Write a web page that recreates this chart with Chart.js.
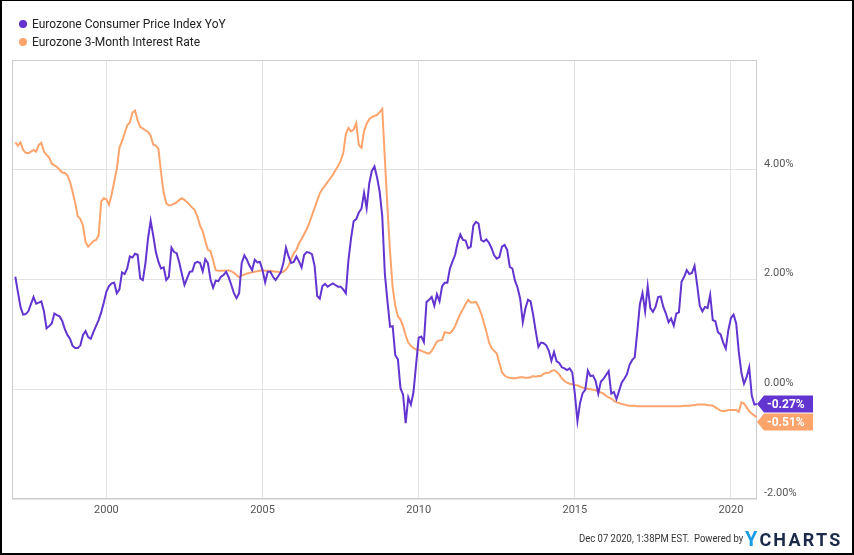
<!DOCTYPE html>
<html>
<head>
<meta charset="utf-8">
<script src="https://cdn.jsdelivr.net/npm/chart.js@4.4.0/dist/chart.umd.min.js"></script>
<style>
  html, body { margin: 0; padding: 0; background: #fff; }
  #wrap { position: relative; width: 854px; height: 555px; overflow: hidden; font-family: Roboto, sans-serif; }
  #frame { position: absolute; left: 0; top: 0; width: 854px; height: 555px; box-sizing: border-box;
           border: 2px solid #000; border-top-width: 1px; pointer-events: none; }
  #legend { position: absolute; left: 19px; top: 15px; font-size: 12px; color: #222; }
  .item { height: 18px; display: flex; align-items: center; white-space: nowrap; }
  .dot { width: 8px; height: 8px; border-radius: 50%; margin-right: 5px; }
  #stamp { position: absolute; left: 579px; top: 532px; font-size: 11px; line-height: 14px; color: #333;
           white-space: nowrap; transform-origin: 0 50%; }
  #logo { position: absolute; left: 745px; top: 528px; font-weight: bold; white-space: nowrap; line-height: 22px; }
  #logo .y { color: #1a9be6; font-size: 20px; margin-right: 2px; }
  #logo .c { color: #1c2a4a; font-size: 18px; letter-spacing: 2.2px; }
</style>
</head>
<body>
<div id="wrap">
  <canvas id="chart" width="854" height="555"></canvas>
  <div id="legend"></div>
  <div id="stamp">Dec 07 2020, 1:38PM EST.&nbsp;&nbsp;Powered by</div>
  <div id="logo"><span class="y">Y</span><span class="c">CHARTS</span></div>
  <div id="frame"></div>
</div>
<script>
// monthly observations, Jan 1997 .. Oct 2020, dated at month end
const START_YEAR = 1997;

const cpiYoY = [
  2.05, 1.77, 1.50, 1.36, 1.37, 1.42, 1.55, 1.68, 1.56, 1.58, 1.60, 1.42,
  1.11, 1.15, 1.20, 1.38, 1.35, 1.33, 1.25, 1.10, 0.99, 0.92, 0.79, 0.75,
  0.75, 0.80, 0.99, 1.06, 0.95, 0.92, 1.04, 1.15, 1.26, 1.40, 1.58, 1.78,
  1.88, 1.93, 1.94, 1.75, 1.82, 2.13, 2.10, 2.20, 2.42, 2.40, 2.47, 2.45,
  2.02, 1.99, 2.30, 2.75, 3.07, 2.80, 2.50, 2.32, 2.20, 2.22, 1.99, 2.05,
  2.58, 2.50, 2.48, 2.31, 2.10, 1.90, 2.02, 2.14, 2.15, 2.30, 2.32, 2.30,
  2.15, 2.37, 2.30, 2.00, 1.85, 1.98, 1.97, 2.05, 2.08, 2.14, 2.04, 1.90,
  1.75, 1.66, 1.75, 2.30, 2.44, 2.36, 2.25, 2.17, 2.36, 2.31, 2.32, 2.17,
  1.95, 2.14, 2.14, 2.05, 1.99, 2.06, 2.13, 2.30, 2.58, 2.42, 2.30, 2.32,
  2.42, 2.33, 2.22, 2.45, 2.50, 2.49, 2.46, 2.25, 1.70, 1.65, 1.88, 1.92,
  1.87, 1.90, 1.93, 1.90, 1.87, 1.87, 1.82, 1.75, 2.35, 2.75, 3.06, 3.10,
  3.22, 3.29, 3.58, 3.30, 3.75, 3.98, 4.06, 3.86, 3.60, 3.15, 2.10, 1.60,
  1.14, 1.15, 0.62, 0.55, 0.02, -0.10, -0.62, -0.15, -0.28, -0.05, 0.45, 0.94,
  0.96, 0.86, 1.59, 1.63, 1.68, 1.52, 1.73, 1.60, 1.88, 1.94, 1.94, 2.20,
  2.33, 2.45, 2.68, 2.82, 2.72, 2.71, 2.57, 2.60, 2.98, 3.05, 3.02, 2.72,
  2.69, 2.73, 2.67, 2.57, 2.44, 2.38, 2.41, 2.60, 2.63, 2.54, 2.23, 2.20,
  1.98, 1.85, 1.65, 1.22, 1.47, 1.63, 1.60, 1.35, 1.05, 0.77, 0.85, 0.84,
  0.80, 0.70, 0.52, 0.68, 0.51, 0.48, 0.40, 0.38, 0.35, 0.38, 0.31, -0.08,
  -0.58, -0.25, -0.07, -0.01, 0.34, 0.24, 0.25, 0.15, -0.08, 0.14, 0.19, 0.26,
  0.33, -0.08, -0.05, -0.18, -0.03, 0.12, 0.19, 0.27, 0.44, 0.53, 0.58, 1.05,
  1.55, 1.75, 1.42, 1.88, 1.48, 1.41, 1.50, 1.68, 1.69, 1.50, 1.38, 1.22,
  1.29, 1.16, 1.38, 1.40, 1.96, 2.05, 2.17, 2.10, 2.12, 2.25, 1.90, 1.52,
  1.42, 1.50, 1.48, 1.72, 1.26, 1.24, 1.04, 1.00, 0.85, 0.74, 1.08, 1.30,
  1.36, 1.20, 0.68, 0.30, 0.10, 0.22, 0.40, -0.12, -0.28, -0.27,
];

const rate3m = [
  4.50, 4.44, 4.50, 4.36, 4.31, 4.30, 4.33, 4.36, 4.33, 4.45, 4.49, 4.33,
  4.27, 4.22, 4.11, 4.08, 4.05, 4.00, 3.95, 3.94, 3.90, 3.78, 3.60, 3.40,
  3.15, 3.10, 2.98, 2.68, 2.60, 2.65, 2.70, 2.72, 2.80, 3.42, 3.48, 3.46,
  3.36, 3.55, 3.78, 4.02, 4.40, 4.52, 4.66, 4.81, 4.86, 5.04, 5.08, 4.90,
  4.78, 4.75, 4.72, 4.69, 4.62, 4.46, 4.44, 4.38, 3.95, 3.58, 3.39, 3.35,
  3.36, 3.38, 3.41, 3.45, 3.48, 3.45, 3.41, 3.36, 3.31, 3.26, 3.14, 2.98,
  2.88, 2.70, 2.54, 2.52, 2.35, 2.17, 2.16, 2.16, 2.16, 2.16, 2.17, 2.15,
  2.12, 2.08, 2.04, 2.07, 2.09, 2.11, 2.12, 2.13, 2.14, 2.15, 2.16, 2.17,
  2.16, 2.16, 2.16, 2.15, 2.14, 2.14, 2.13, 2.14, 2.18, 2.25, 2.38, 2.48,
  2.54, 2.66, 2.74, 2.83, 2.92, 3.03, 3.17, 3.30, 3.44, 3.57, 3.65, 3.71,
  3.78, 3.84, 3.91, 3.99, 4.07, 4.16, 4.30, 4.65, 4.76, 4.70, 4.73, 4.85,
  4.45, 4.40, 4.70, 4.84, 4.92, 4.96, 4.98, 5.00, 5.05, 5.11, 4.20, 3.30,
  2.50, 1.85, 1.52, 1.33, 1.27, 1.15, 0.98, 0.85, 0.79, 0.75, 0.73, 0.72,
  0.70, 0.68, 0.66, 0.65, 0.70, 0.78, 0.87, 0.89, 0.90, 1.04, 1.03, 1.02,
  1.07, 1.15, 1.27, 1.37, 1.46, 1.55, 1.63, 1.58, 1.58, 1.59, 1.50, 1.38,
  1.22, 1.05, 0.86, 0.75, 0.70, 0.65, 0.48, 0.31, 0.25, 0.22, 0.21, 0.20,
  0.20, 0.21, 0.22, 0.22, 0.21, 0.21, 0.22, 0.24, 0.23, 0.24, 0.24, 0.28,
  0.30, 0.30, 0.33, 0.35, 0.32, 0.27, 0.20, 0.15, 0.12, 0.10, 0.09, 0.08,
  0.07, 0.05, 0.03, 0.02, 0.01, 0.00, -0.01, -0.02, -0.04, -0.06, -0.08, -0.12,
  -0.15, -0.17, -0.21, -0.24, -0.25, -0.27, -0.28, -0.29, -0.30, -0.30, -0.30, -0.31,
  -0.31, -0.31, -0.31, -0.31, -0.31, -0.31, -0.31, -0.31, -0.31, -0.31, -0.31, -0.31,
  -0.31, -0.31, -0.31, -0.31, -0.31, -0.30, -0.30, -0.30, -0.29, -0.29, -0.28, -0.28,
  -0.28, -0.28, -0.29, -0.29, -0.30, -0.33, -0.36, -0.39, -0.40, -0.39, -0.38, -0.38,
  -0.38, -0.38, -0.41, -0.24, -0.26, -0.33, -0.40, -0.44, -0.48, -0.51,
];

const xTicks = [2000, 2005, 2010, 2015, 2020];
const yTicks = [-2, 0, 2, 4];

const SERIES = [
  { name: 'Eurozone Consumer Price Index YoY', values: cpiYoY, color: '#6234d0' },
  { name: 'Eurozone 3-Month Interest Rate', values: rate3m, color: '#fda46d' },
];

const points = vals => vals.map((v, i) => ({ x: START_YEAR + (i + 1) / 12, y: v }));

// grey box round the plot area
const plotFrame = {
  id: 'plotFrame',
  beforeDatasetsDraw(chart) {
    const { ctx, chartArea: a } = chart;
    ctx.save();
    ctx.strokeStyle = '#cccccc';
    ctx.lineWidth = 1;
    ctx.strokeRect(Math.round(a.left) + 0.5, Math.round(a.top) + 0.5,
      Math.round(a.right - a.left) - 1, Math.round(a.bottom - a.top) - 1);
    ctx.restore();
  },
};

// coloured value tags at the right edge
const lastTags = {
  id: 'lastTags',
  afterDatasetsDraw(chart) {
    const { ctx, chartArea, scales: { y } } = chart;
    const h = 17;
    let prevBottom = -Infinity;
    chart.data.datasets.forEach(ds => {
      const v = ds.data[ds.data.length - 1].y;
      let cy = y.getPixelForValue(v);
      if (cy - h / 2 < prevBottom + 1) cy = prevBottom + 1 + h / 2;
      prevBottom = cy + h / 2;
      const x0 = chartArea.right;
      ctx.save();
      ctx.fillStyle = ds.borderColor;
      ctx.beginPath();
      ctx.moveTo(x0, cy);
      ctx.lineTo(x0 + 7, cy - h / 2);
      ctx.lineTo(x0 + 56, cy - h / 2);
      ctx.lineTo(x0 + 56, cy + h / 2);
      ctx.lineTo(x0 + 7, cy + h / 2);
      ctx.closePath();
      ctx.fill();
      ctx.fillStyle = '#fff';
      ctx.font = 'bold 12px Roboto';
      ctx.textBaseline = 'middle';
      ctx.fillText(v.toFixed(2) + '%', x0 + 10, cy + 1);
      ctx.restore();
    });
  },
};

document.getElementById('legend').innerHTML = SERIES.map(s =>
  `<div class="item"><span class="dot" style="background:${s.color}"></span>${s.name}</div>`).join('');

// the stamp is set in a narrow face; squeeze it to the width it takes in the original
const stamp = document.getElementById('stamp');
stamp.style.transform = `scaleX(${(164 / stamp.offsetWidth).toFixed(3)})`;

Chart.defaults.font.family = 'Roboto';
Chart.defaults.font.size = 11;
Chart.defaults.color = '#555';

new Chart(document.getElementById('chart'), {
  type: 'line',
  data: {
    datasets: SERIES.map(s => ({
      label: s.name,
      data: points(s.values),
      borderColor: s.color,
      backgroundColor: s.color,
      borderWidth: 2,
      pointRadius: 0,
      tension: 0,
      fill: false,
    })),
  },
  options: {
    responsive: false,
    animation: false,
    layout: { padding: { left: 12, top: 60, right: 0, bottom: 0 } },
    plugins: { legend: { display: false }, tooltip: { enabled: false } },
    scales: {
      x: {
        type: 'linear',
        min: 1996.977,
        max: 2020.833,
        afterBuildTicks: axis => { axis.ticks = xTicks.map(v => ({ value: v })); },
        afterFit: axis => { axis.height = 56; },
        ticks: { autoSkip: false, maxRotation: 0, padding: 5, callback: v => String(v) },
        grid: { color: '#e3e3e3', drawTicks: false },
        border: { display: false },
      },
      y: {
        position: 'right',
        min: -2,
        max: 6,
        afterBuildTicks: axis => { axis.ticks = yTicks.map(v => ({ value: v })); },
        afterFit: axis => { axis.width = 97; },
        ticks: { padding: 7, labelOffset: -6, callback: v => v.toFixed(2) + '%' },
        grid: { color: '#e3e3e3', drawTicks: false },
        border: { display: false },
      },
    },
  },
  plugins: [plotFrame, lastTags],
});
</script>
</body>
</html>
